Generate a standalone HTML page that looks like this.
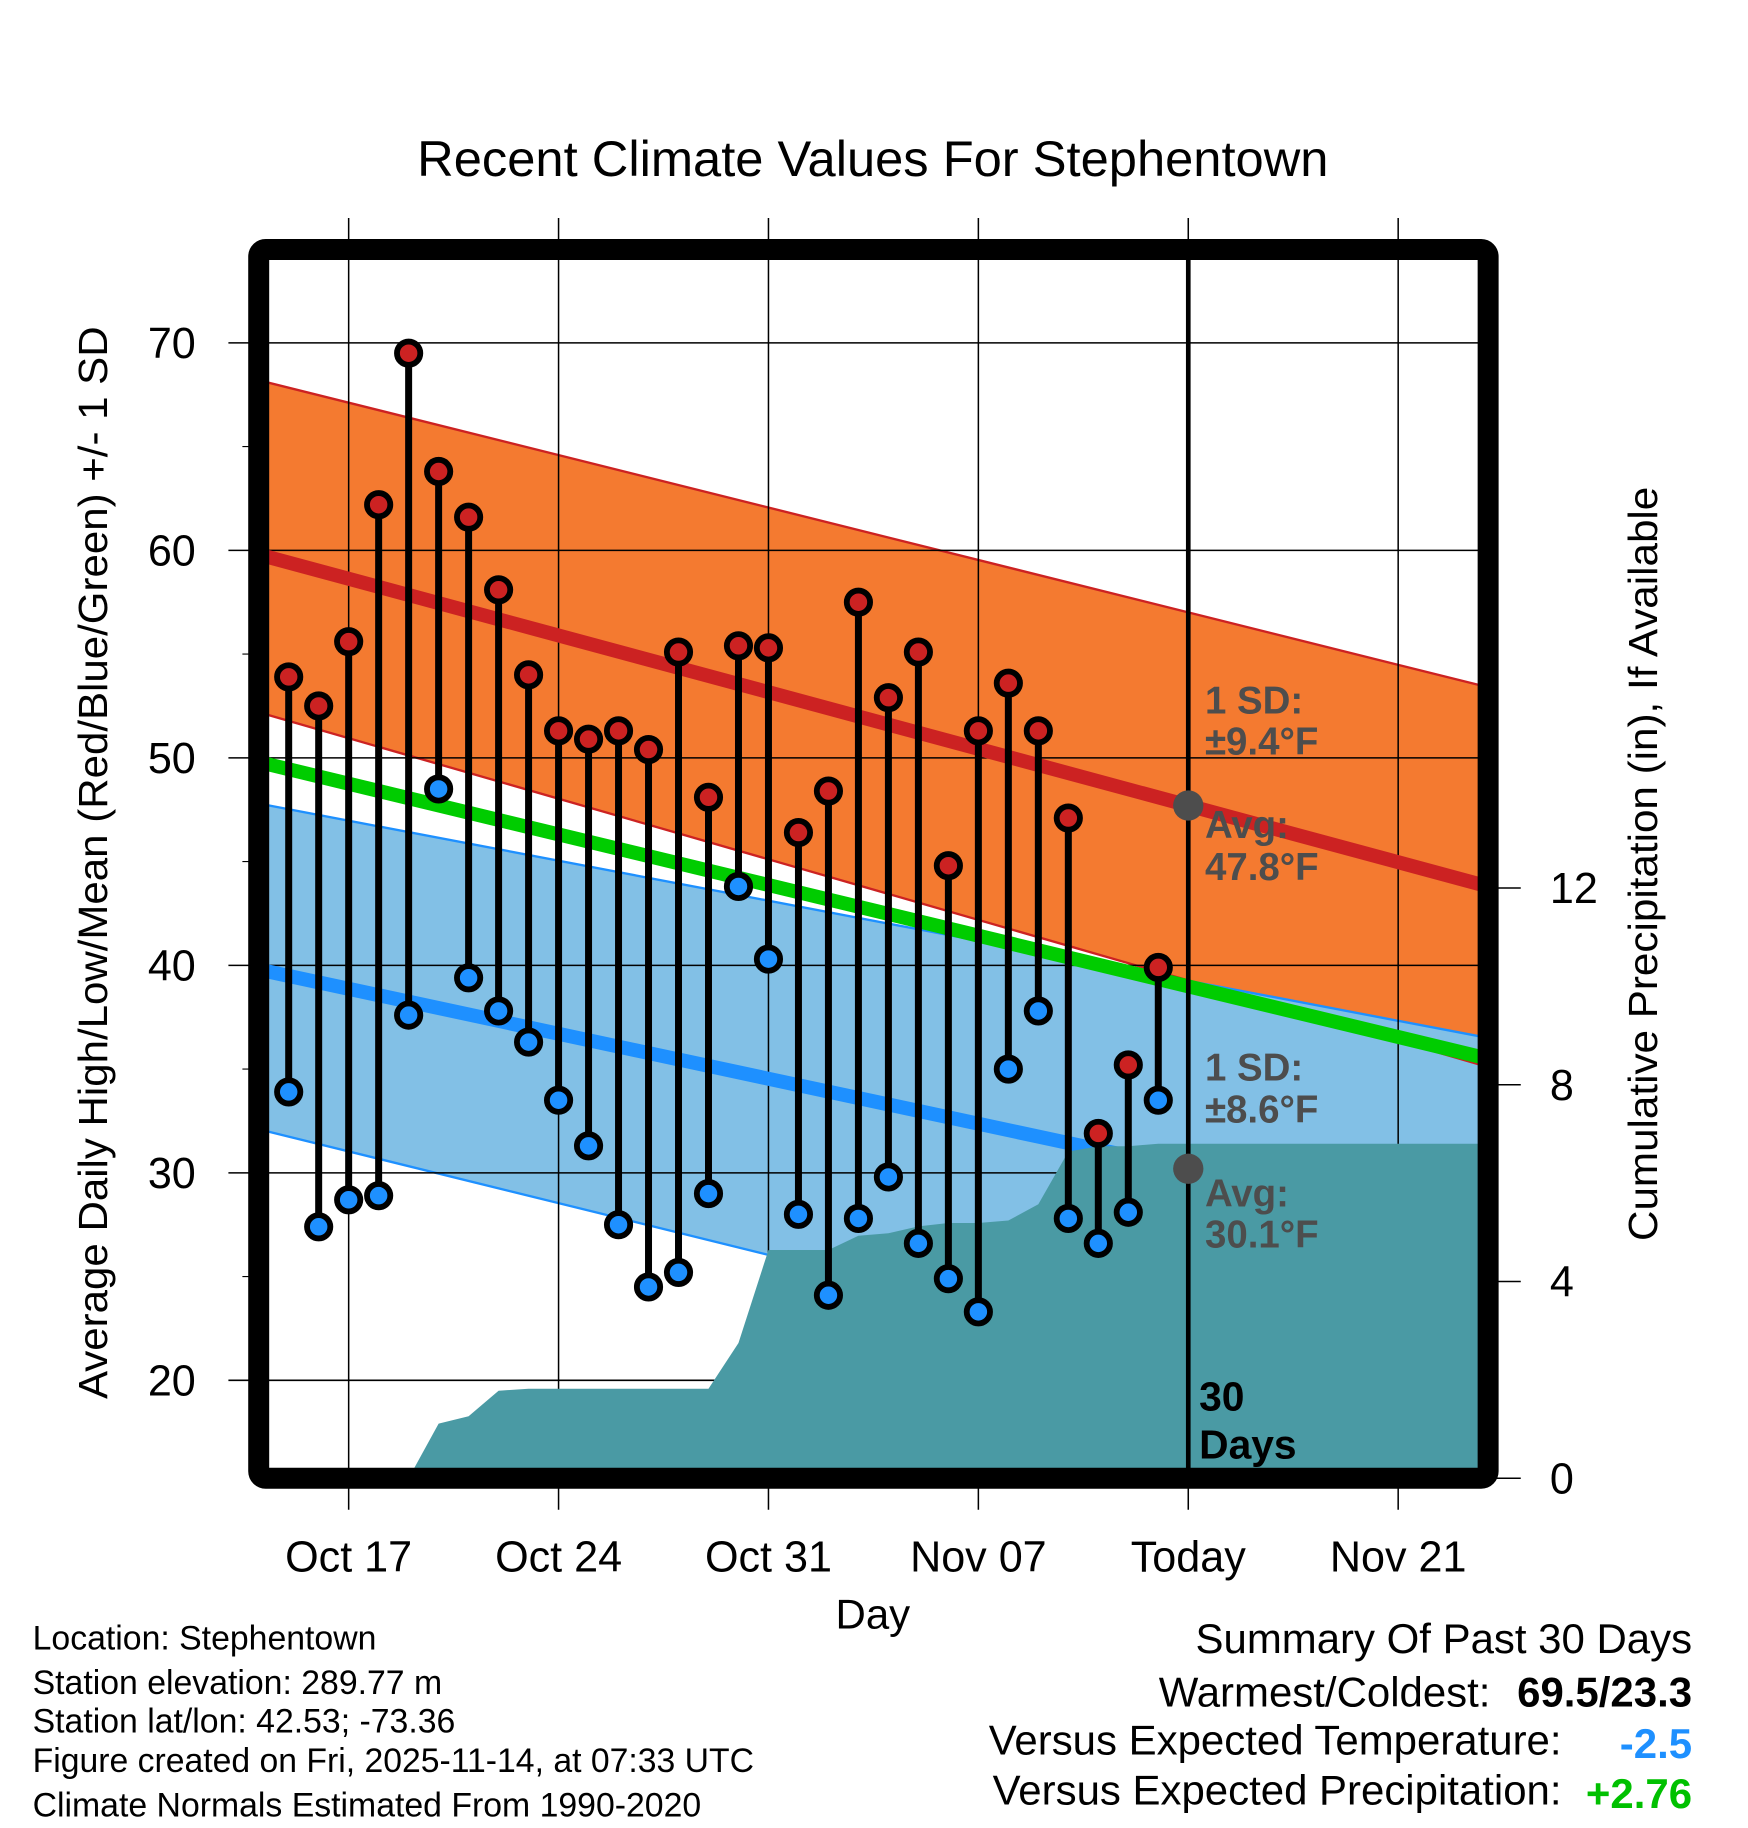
<!DOCTYPE html>
<html><head><meta charset="utf-8"><style>
html,body{margin:0;padding:0;background:#fff;}
svg{display:block;font-family:"Liberation Sans",Arial,sans-serif;}
</style></head><body>
<svg id="chart" width="1748" height="1828" viewBox="0 0 1500 1568" preserveAspectRatio="none" xmlns="http://www.w3.org/2000/svg">
<text x="749" y="151" font-size="43" text-anchor="middle" textLength="782" lengthAdjust="spacingAndGlyphs">Recent Climate Values For Stephentown</text>
<g id="bands"></g>
<g id="grid"></g>
<g id="lines"></g>
<g id="precip"></g>
<g id="lines2"></g>
<g id="marks"></g>
<g id="frame"></g>
<g id="labels"></g>
<text transform="translate(92,740) rotate(-90)" font-size="35" text-anchor="middle" textLength="920" lengthAdjust="spacingAndGlyphs">Average Daily High/Low/Mean (Red/Blue/Green) +/- 1 SD</text>
<text transform="translate(1422,741) rotate(-90)" font-size="35" text-anchor="middle" textLength="647" lengthAdjust="spacingAndGlyphs">Cumulative Precipitation (in), If Available</text>
<text x="749" y="1397" font-size="36" text-anchor="middle">Day</text>
<g font-size="29">
<text x="28" y="1415">Location: Stephentown</text>
<text x="28" y="1453">Station elevation: 289.77 m</text>
<text x="28" y="1486">Station lat/lon: 42.53; -73.36</text>
<text x="28" y="1520" textLength="619" lengthAdjust="spacingAndGlyphs">Figure created on Fri, 2025-11-14, at 07:33 UTC</text>
<text x="28" y="1558">Climate Normals Estimated From 1990-2020</text>
</g>
<g font-size="36">
<text x="1452" y="1418" text-anchor="end">Summary Of Past 30 Days</text>
<text x="1279" y="1464" text-anchor="end">Warmest/Coldest:</text>
<text x="1452" y="1464" text-anchor="end" font-weight="bold">69.5/23.3</text>
<text x="1340" y="1505" text-anchor="end">Versus Expected Temperature:</text>
<text x="1452" y="1508" text-anchor="end" font-weight="bold" fill="#1e90ff">-2.5</text>
<text x="1340" y="1548" text-anchor="end">Versus Expected Precipitation:</text>
<text x="1452" y="1551" text-anchor="end" font-weight="bold" fill="#00c000">+2.76</text>
</g>
</svg>
<script>
// data
const highs = [53.9,52.5,55.6,62.2,69.5,63.8,61.6,58.1,54.0,51.3,50.9,51.3,50.4,55.1,48.1,55.4,55.3,46.4,48.4,57.5,52.9,55.1,44.8,51.3,53.6,51.3,47.1,31.9,35.2,39.9];
const lows = [33.9,27.4,28.7,28.9,37.6,48.5,39.4,37.8,36.3,33.5,31.3,27.5,24.5,25.2,29.0,43.8,40.3,28.0,24.1,27.8,29.8,26.6,24.9,23.3,35.0,37.8,27.8,26.6,28.1,33.5];
const precipCum = [0,0,0,0,0,0,1.11,1.26,1.78,1.82,1.82,1.82,1.82,1.82,1.82,1.82,2.75,4.64,4.64,4.64,4.93,4.98,5.12,5.19,5.19,5.24,5.57,6.64,6.75,6.75,6.8,6.8,6.8,6.8,6.8,6.8,6.8,6.8,6.8,6.8,6.8,6.8];
const normHigh = [59.8,43.8];
const normHighUpper = [68.2,53.4];
const normHighLower = [52.2,35.1];
const normLow = [39.8,27.1];
const normLowUpper = [47.8,36.5];
const normLowLower = [32.1,17.5];
const normMean = [49.8,35.5];
const tempTicks = [20,30,40,50,60,70];
const tempMinor = [25,35,45,55,65];
const precipTicks = [0,4,8,12];
const dateLabels = ["Oct 17","Oct 24","Oct 31","Nov 07","Today","Nov 21"];
const dateDays = [3,10,17,24,31,38];

const X0=222,X1=1277,Y0=214,Y1=1268;
const DMAX=41, TMIN=15.28, TMAX=74.5, PMAX=24.98;
const xs=d=>X0+(X1-X0)*d/DMAX;
const yt=t=>Y1-(Y1-Y0)*(t-TMIN)/(TMAX-TMIN);
const yp=p=>Y1-(Y1-Y0)*p/PMAX;
const NS="http://www.w3.org/2000/svg";
function mk(parent,tag,attrs){const e=document.createElementNS(NS,tag);for(const k in attrs)e.setAttribute(k,attrs[k]);document.getElementById(parent).appendChild(e);return e;}
const L=0,R=DMAX;
function band(up,lo){return `M${xs(L)},${yt(up[0])} L${xs(R)},${yt(up[1])} L${xs(R)},${yt(lo[1])} L${xs(L)},${yt(lo[0])}Z`;}
let e;
e=mk('bands','path',{d:band(normHighUpper,normHighLower),fill:'#f47a30'});


e=mk('bands','path',{d:band(normLowUpper,normLowLower),fill:'#82c0e6'});


[[normHighUpper,'#cc2222'],[normHighLower,'#cc2222'],[normLowUpper,'#1e90ff'],[normLowLower,'#1e90ff']].forEach(([a,c])=>{
 e=mk('bands','line',{x1:xs(L),y1:yt(a[0]),x2:xs(R),y2:yt(a[1]),stroke:c,'stroke-width':2});
 
 
});
// grid
tempTicks.forEach(t=>{
 e=mk('grid','line',{x1:196,x2:X1,y1:yt(t),y2:yt(t),stroke:'#000','stroke-width':1.3});
 
 
 e=mk('labels','text',{x:168,y:yt(t)+13,'font-size':37,'text-anchor':'end'});e.textContent=t;
 
 
});
tempMinor.forEach(t=>{
 e=mk('grid','line',{x1:208,x2:X0,y1:yt(t),y2:yt(t),stroke:'#000','stroke-width':1});
 
 
});
dateDays.forEach((d,i)=>{
 e=mk('grid','line',{x1:xs(d),x2:xs(d),y1:187,y2:1295,stroke:'#000','stroke-width':1.3});
 
 
 e=mk('labels','text',{x:xs(d),y:1348,'font-size':37,'text-anchor':'middle'});e.textContent=dateLabels[i];
 
 
});
precipTicks.forEach(p=>{
 e=mk('grid','line',{x1:X1,x2:1305,y1:yp(p),y2:yp(p),stroke:'#000','stroke-width':1.3});
 
 
 e=mk('labels','text',{x:1330,y:yp(p)+13,'font-size':37});e.textContent=p;
 
 
});
// normal lines (under precip)
[[normMean,'#00cc00','mean-normal-line'],[normHigh,'#cc2222','high-normal-line'],[normLow,'#1e90ff','low-normal-line']].forEach(([a,c,n])=>{
 e=mk('lines','line',{x1:xs(L),y1:yt(a[0]),x2:xs(R),y2:yt(a[1]),stroke:c,'stroke-width':12});
 
 
});
// precip area
let d=`M${xs(0)},${yp(0)}`;precipCum.forEach((p,i)=>{d+=` L${xs(i)},${yp(p)}`;});d+=` L${xs(DMAX)},${yp(0)}Z`;
e=mk('precip','path',{d:d,fill:'#4a9aa4'});


// today line & avg dots
const today=31;
e=mk('lines2','line',{x1:xs(today),x2:xs(today),y1:Y0,y2:Y1,stroke:'#000','stroke-width':4});


const interp=(a)=>a[0]+(a[1]-a[0])*today/DMAX;
[normHigh,normLow].forEach(a=>{
 e=mk('lines2','circle',{cx:xs(today),cy:yt(interp(a)),r:13,fill:'#4d4d4d'});
 
 
});
// marks
highs.forEach((h,i)=>{
 const x=xs(i+1);
 e=mk('marks','line',{x1:x,x2:x,y1:yt(h),y2:yt(lows[i]),stroke:'#000','stroke-width':6});
 
 
});
highs.forEach((h,i)=>{
 const x=xs(i+1);
 e=mk('marks','circle',{cx:x,cy:yt(h),r:10,fill:'#cc2222',stroke:'#000','stroke-width':5});
 
 
 e=mk('marks','circle',{cx:x,cy:yt(lows[i]),r:10,fill:'#1e90ff',stroke:'#000','stroke-width':5});
 
 
});
// frame
e=mk('frame','rect',{x:X0,y:Y0,width:X1-X0,height:Y1-Y0,rx:6,fill:'none',stroke:'#000','stroke-width':18});


// annotations
const ann=[[1034,612,'1 SD:'],[1034,647,'±9.4°F'],[1034,719,'Avg:'],[1034,755,'47.8°F'],[1034,927,'1 SD:'],[1034,963,'±8.6°F'],[1034,1035,'Avg:'],[1034,1070,'30.1°F']];
ann.forEach(([x,y,t])=>{
 e=mk('labels','text',{x:x,y:y,'font-size':33,'font-weight':'bold',fill:'#4d4d4d'});e.textContent=t;
 
 
});
[[1029,1210,'30'],[1029,1251,'Days']].forEach(([x,y,t])=>{
 e=mk('labels','text',{x:x,y:y,'font-size':35,'font-weight':'bold',fill:'#000'});e.textContent=t;
 
 
});
</script>
</body></html>
